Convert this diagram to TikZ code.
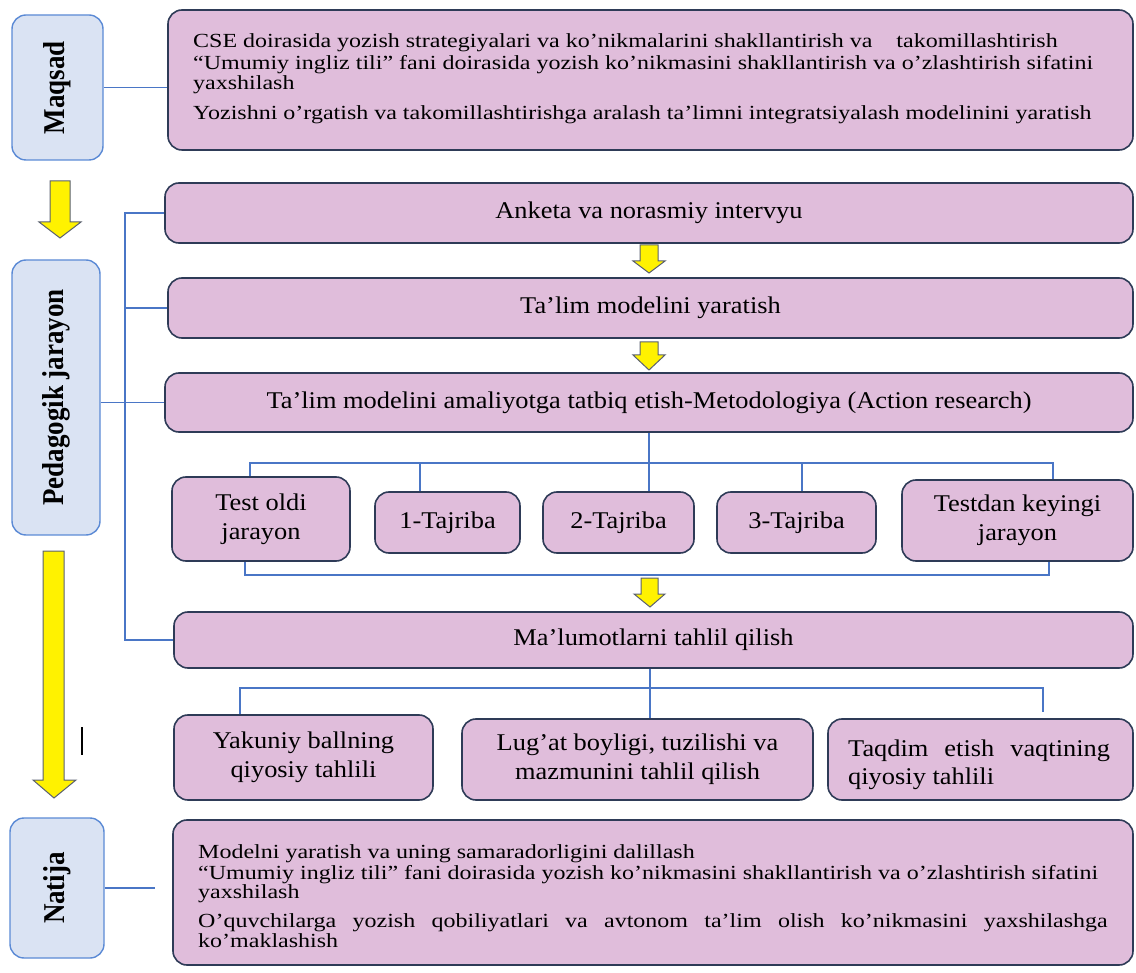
\documentclass[tikz,border=0pt]{standalone}
\usepackage{fontspec}
\usepackage{graphicx}
\setmainfont{Liberation Serif}
\definecolor{pinkf}{HTML}{E0BDDB}
\definecolor{pinkd}{HTML}{2E3B57}
\definecolor{bluef}{HTML}{DAE3F3}
\definecolor{blued}{HTML}{5B8AD5}
\definecolor{connc}{HTML}{4A76C6}
\definecolor{arrowd}{HTML}{5A6070}
\newcommand\sx[1]{\scalebox{1.1}[1]{\begin{tabular}{@{}c@{}}#1\end{tabular}}}
\newcommand\gx[1]{\scalebox{1.2}[1]{#1}}
\newcommand\rx[1]{\scalebox{1.12}[1]{\rotatebox{90}{#1}}}
\begin{document}
\begin{tikzpicture}[x=1pt,y=-1pt,
  pbox/.style={draw=pinkd, fill=pinkf, line width=1.6pt, rounded corners=14pt, inner sep=0pt, align=center, font=\fontsize{24}{29}\selectfont},
  bbox/.style={draw=blued, fill=bluef, line width=1.4pt, rounded corners=14pt, inner sep=0pt},
  conn/.style={draw=connc, line width=1.3pt},
  yarrow/.style={fill=yellow, draw=arrowd, line width=1pt, line join=miter},
  lbl/.style={font=\fontsize{27}{30}\selectfont\bfseries, inner sep=0pt},
  ln/.style={anchor=base west, inner sep=0pt, font=\fontsize{20}{22}\selectfont}
]
\useasboundingbox (0,0) rectangle (1136,973);

% left blue boxes
\node[bbox, minimum width=91pt, minimum height=145pt] (maq) at (57.5,87.5) {};
\node[lbl] (maqt) at (maq.center) {\rx{Maqsad}};
\node[bbox, minimum width=88pt, minimum height=275pt] (ped) at (56,397.5) {};
\node[lbl] (pedt) at (ped.center) {\rx{Pedagogik jarayon}};
\node[bbox, minimum width=94pt, minimum height=140pt] (nat) at (57,888) {};
\node[lbl] (natt) at (nat.center) {\rx{Natija}};

% goal box
\node[pbox, minimum width=965pt, minimum height=140pt] (goal) at (650.5,80) {};
\node[ln] (g1) at (193,48) {\gx{CSE doirasida yozish strategiyalari va ko’nikmalarini shakllantirish va \ \ \ takomillashtirish}};
\node[ln] (g2) at (193,70) {\gx{“Umumiy ingliz tili” fani doirasida yozish ko’nikmasini shakllantirish va o’zlashtirish sifatini}};
\node[ln] (g3) at (193,90) {\gx{yaxshilash}};
\node[ln] (g4) at (193,120) {\gx{Yozishni o'rgatish va takomillashtirishga aralash ta'limni integratsiyalash modelinini yaratish}};

% process boxes
\node[pbox, minimum width=968pt, minimum height=60pt] (ank) at (649,213) {\sx{Anketa va norasmiy intervyu}};
\node[pbox, minimum width=965pt, minimum height=60pt] (yar) at (650.5,308) {\sx{Ta'lim modelini yaratish}};
\node[pbox, minimum width=968pt, minimum height=59pt] (ama) at (649,402.5) {\sx{Ta’lim modelini amaliyotga tatbiq etish-Metodologiya (Action research)}};

\node[pbox, minimum width=178pt, minimum height=84pt] (t0) at (261,519) {\sx{Test oldi\\jarayon}};
\node[pbox, minimum width=145pt, minimum height=61pt] (t1) at (447.5,522.5) {\sx{1-Tajriba}};
\node[pbox, minimum width=151pt, minimum height=61pt] (t2) at (618.5,522.5) {\sx{2-Tajriba}};
\node[pbox, minimum width=159pt, minimum height=61pt] (t3) at (796.5,522.5) {\sx{3-Tajriba}};
\node[pbox, minimum width=231pt, minimum height=81pt] (t4) at (1017.5,520.5) {\sx{Testdan keyingi\\jarayon}};

\node[pbox, minimum width=959pt, minimum height=56pt] (mal) at (653.5,640) {\sx{Ma'lumotlarni tahlil qilish}};

\node[pbox, minimum width=259pt, minimum height=85pt] (r1) at (303.5,757.5) {\sx{Yakuniy ballning\\qiyosiy tahlili}};
\node[pbox, minimum width=351pt, minimum height=81pt] (r2) at (637.5,759.5) {\sx{Lug’at boyligi, tuzilishi va\\mazmunini tahlil qilish}};
\node[pbox, minimum width=305pt, minimum height=81pt] (r3) at (980.5,759.5) {};
\node[ln, font=\fontsize{24}{29}\selectfont] (r3a) at (848,756) {\scalebox{1.1}[1]{\makebox[238pt][s]{Taqdim etish vaqtining}}};
\node[ln, font=\fontsize{24}{29}\selectfont] (r3b) at (848,784) {\scalebox{1.1}[1]{qiyosiy tahlili}};

% result box
\node[pbox, minimum width=960pt, minimum height=145pt] (res) at (653,892.5) {};
\node[ln] (n1) at (198,858) {\gx{Modelni yaratish va uning samaradorligini dalillash}};
\node[ln] (n2) at (198,879) {\gx{“Umumiy ingliz tili” fani doirasida yozish ko’nikmasini shakllantirish va o’zlashtirish sifatini}};
\node[ln] (n3) at (198,898) {\gx{yaxshilash}};
\node[ln] (n4) at (198,927) {\gx{\makebox[758pt][s]{O'quvchilarga yozish qobiliyatlari va avtonom ta’lim olish ko’nikmasini yaxshilashga}}};
\node[ln] (n5) at (198,947) {\gx{ko’maklashish}};

% connectors
\coordinate (bus) at (125,0);
\draw[conn] (maq.east) -- (maq.east -| goal.west);
\coordinate (natend) at (155,888);
\draw[conn] (nat.east) -- (natend);
\draw[conn] (ank.west) -- (ank.west -| bus) -- (mal.west -| bus) -- (mal.west);
\draw[conn] (yar.west -| bus) -- (yar.west);
\draw[conn] (ama.west -| ped.east) -- (ama.west);

\coordinate (b0) at (250,463);
\coordinate (b1) at (420,463);
\coordinate (b3) at (802,463);
\coordinate (b4) at (1053,463);
\draw[conn] (b0 |- t0.north) -- (b0) -- (b4) -- (b4 |- t4.north);
\draw[conn] (ama.south) -- (ama.south |- t2.north);
\draw[conn] (b1) -- (b1 |- t1.north);
\draw[conn] (b3) -- (b3 |- t3.north);

\coordinate (c0) at (245,575);
\coordinate (c4) at (1049,575);
\draw[conn] (c0 |- t0.south) -- (c0) -- (c4) -- (c4 |- t4.south);

\coordinate (d0) at (240,688);
\coordinate (d1) at (650,688);
\coordinate (d2) at (1043,688);
\draw[conn] (d1 |- mal.south) -- (d1 |- r2.north);
\draw[conn] (d0 |- r1.north) -- (d0) -- (d2) -- (1043,712);

% yellow arrows
\draw[yarrow] (50,181) -- (70,181) -- (70,222) -- (81,222) -- (60,238) -- (39,222) -- (50,222) -- cycle;
\draw[yarrow] (43,551) -- (64,551) -- (64,780) -- (76,780) -- (54,798) -- (33,780) -- (43,780) -- cycle;
\draw[yarrow] (640,245) -- (658,245) -- (658,261) -- (665,261) -- (649,273) -- (633,261) -- (640,261) -- cycle;
\draw[yarrow] (640,342) -- (658,342) -- (658,355) -- (665,355) -- (649,370) -- (633,355) -- (640,355) -- cycle;
\draw[yarrow] (641,578) -- (658,578) -- (658,594) -- (665,594) -- (650,607) -- (634,594) -- (641,594) -- cycle;

% stray mark
\draw[line width=1.5pt] (82,727) -- (82,755);
\end{tikzpicture}
\end{document}
